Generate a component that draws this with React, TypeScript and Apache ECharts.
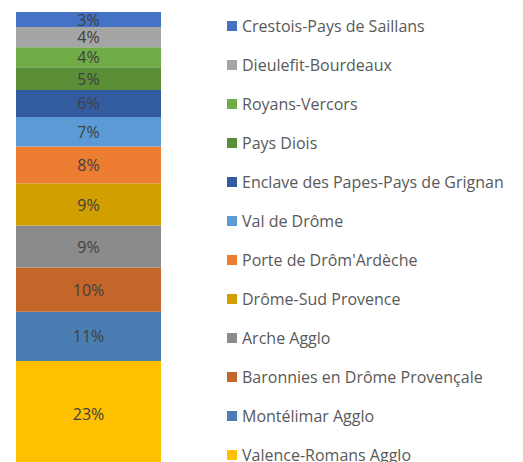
import React, { useEffect, useRef } from "react";
import * as echarts from "echarts";

// Top of the stack to bottom
const names = [
  "Crestois-Pays de Saillans",
  "Dieulefit-Bourdeaux",
  "Royans-Vercors",
  "Pays Diois",
  "Enclave des Papes-Pays de Grignan",
  "Val de Drôme",
  "Porte de Drôm'Ardèche",
  "Drôme-Sud Provence",
  "Arche Agglo",
  "Baronnies en Drôme Provençale",
  "Montélimar Agglo",
  "Valence-Romans Agglo",
];
const shares = [3.3, 4.4, 4.4, 5.0, 5.9, 6.5, 8.1, 9.2, 9.2, 9.7, 10.8, 23.0];
const colors = [
  "#4472C4",
  "#A5A5A5",
  "#70AD47",
  "#5A8F38",
  "#335BA0",
  "#5B9BD5",
  "#ED7D31",
  "#D29F00",
  "#8B8B8B",
  "#C4652A",
  "#4A7EB3",
  "#FFC000",
];
const category = ["Intercommunalités"];

export default function App() {
  const ref = useRef<HTMLDivElement>(null);
  useEffect(() => {
    document.body.style.margin = "0";
    if (!ref.current) return;
    const chart = echarts.init(ref.current, null, { renderer: "svg" });
    const order = names.map((_, i) => names.length - 1 - i); // bottom first
    const total = shares.reduce((a, b) => a + b, 0);
    chart.setOption({
      animation: false,
      grid: { left: 16, width: 145, top: 12, height: 454 },
      xAxis: { type: "category", data: category, show: false },
      yAxis: { type: "value", min: 0, max: total, show: false },
      legend: {
        orient: "vertical",
        left: 227,
        top: 17,
        padding: 0,
        itemWidth: 10,
        itemHeight: 10,
        itemGap: 21,
        icon: "rect",
        data: names,
        textStyle: {
          fontFamily: "Open Sans",
          fontSize: 16,
          lineHeight: 18,
          color: "#595959",
        },
      },
      series: order.map((i) => ({
        name: names[i],
        type: "bar",
        stack: "total",
        barCategoryGap: "0%",
        data: [shares[i]],
        itemStyle: { color: colors[i] },
        label: {
          show: true,
          position: "inside",
          color: "#404040",
          fontFamily: "Open Sans",
          fontSize: 16,
          formatter: (p: any) => Math.round(p.value) + "%",
        },
      })),
    });
    return () => chart.dispose();
  }, []);
  return (
    <div
      style={{
        position: "absolute",
        left: 0,
        top: 0,
        width: 523,
        height: 462,
        overflow: "hidden",
      }}
    >
      <div ref={ref} style={{ width: 523, height: 500 }} />
    </div>
  );
}
